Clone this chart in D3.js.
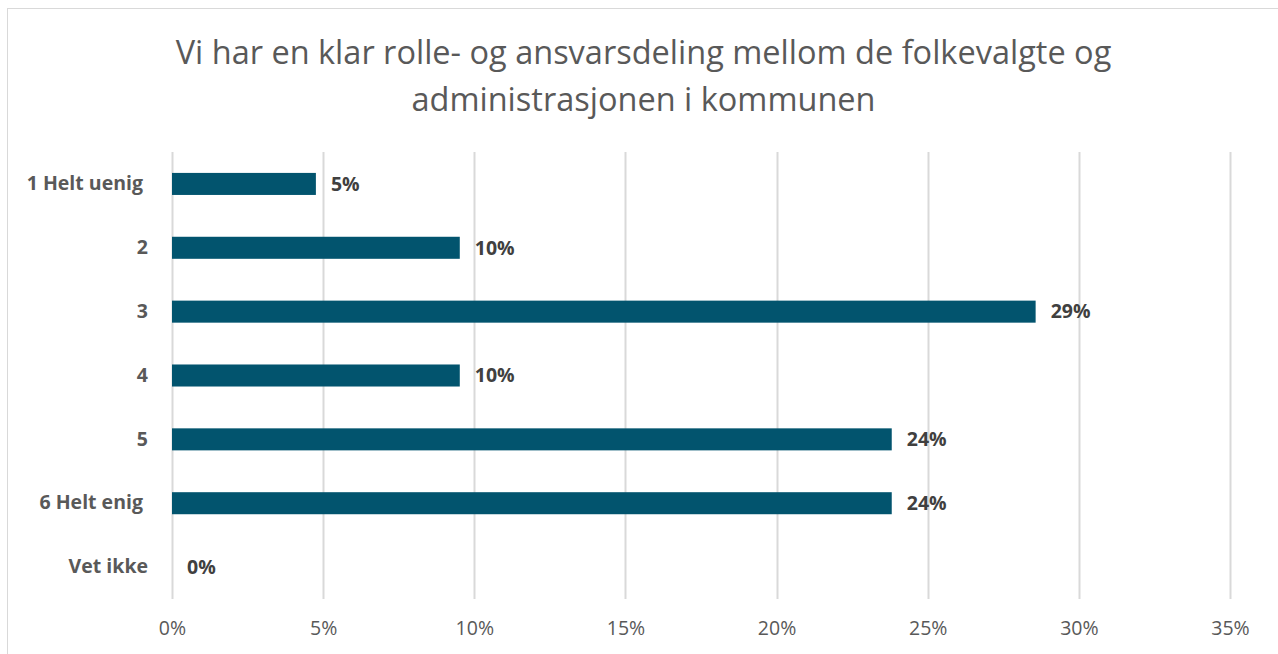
<!DOCTYPE html>
<html>
<head>
<meta charset="utf-8">
<script src="https://cdn.jsdelivr.net/npm/d3@7"></script>
<style>
  body { margin: 0; background: #fff; }
  text { font-family: "Open Sans", sans-serif; white-space: pre; }
</style>
</head>
<body>
<div class="chart"></div>
<script>
var categories = ["1 Helt uenig ", "2", "3", "4", "5", "6 Helt enig ", "Vet ikke"];
var values = [4.76, 9.52, 28.57, 9.52, 23.81, 23.81, 0];
var ticks = [0, 5, 10, 15, 20, 25, 30, 35];
var titleLines = ["Vi har en klar rolle- og ansvarsdeling mellom de folkevalgte og", "administrasjonen i kommunen"];

var svgWidth = 1278;
var svgHeight = 654;

var margin = { top: 152, right: 48, bottom: 55, left: 172 };
var width = svgWidth - margin.left - margin.right;
var height = svgHeight - margin.top - margin.bottom;

var svg = d3.select(".chart")
  .append("svg")
  .attr("width", svgWidth)
  .attr("height", svgHeight);

// outer frame
svg.append("rect")
  .attr("x", 7.5)
  .attr("y", 8.5)
  .attr("width", svgWidth)
  .attr("height", svgHeight)
  .attr("fill", "none")
  .attr("stroke", "#d9d9d9");

svg.append("g")
  .selectAll("text")
  .data(titleLines)
  .enter()
  .append("text")
  .attr("x", 643.5)
  .attr("y", (d, i) => 64 + i * 47)
  .attr("text-anchor", "middle")
  .attr("font-size", "32.5px")
  .attr("fill", "#595959")
  .text(d => d);

var chartGroup = svg.append("g")
  .attr("transform", `translate(${margin.left}, ${margin.top})`);

var xLinearScale = d3.scaleLinear()
  .domain([0, 35])
  .range([0, width]);

var yBand = d3.scaleBand()
  .domain(categories)
  .range([0, height]);

var barH = yBand.bandwidth() * 0.345;

// gridlines
chartGroup.append("g")
  .selectAll("line")
  .data(ticks)
  .enter()
  .append("line")
  .attr("x1", d => Math.round(xLinearScale(d)) + 0.5)
  .attr("x2", d => Math.round(xLinearScale(d)) + 0.5)
  .attr("y1", 0)
  .attr("y2", height)
  .attr("stroke", "#d9d9d9")
  .attr("stroke-width", 2);

var bottomAxis = d3.axisBottom(xLinearScale)
  .tickValues(ticks)
  .tickFormat(d => d + "%")
  .tickSize(0)
  .tickPadding(22);

var xAxis = chartGroup.append("g")
  .attr("transform", `translate(0, ${height})`)
  .call(bottomAxis);
xAxis.select(".domain").remove();
xAxis.selectAll("text")
  .attr("font-family", "'Open Sans', sans-serif")
  .attr("font-size", "19.5px")
  .attr("fill", "#595959");

var leftAxis = d3.axisLeft(yBand)
  .tickSize(0)
  .tickPadding(24);

var yAxis = chartGroup.append("g").call(leftAxis);
yAxis.select(".domain").remove();
yAxis.selectAll("text")
  .attr("font-family", "'Open Sans', sans-serif")
  .attr("font-size", "19.5px")
  .attr("font-weight", "bold")
  .attr("fill", "#595959");

chartGroup.append("g")
  .selectAll("rect")
  .data(values)
  .enter()
  .append("rect")
  .attr("x", 0)
  .attr("y", (d, i) => yBand(categories[i]) + (yBand.bandwidth() - barH) / 2)
  .attr("width", d => xLinearScale(d))
  .attr("height", barH)
  .attr("fill", "#02546e");

chartGroup.append("g")
  .selectAll("text")
  .data(values)
  .enter()
  .append("text")
  .attr("x", d => xLinearScale(d) + 15)
  .attr("y", (d, i) => yBand(categories[i]) + yBand.bandwidth() / 2)
  .attr("dy", "0.35em")
  .attr("font-size", "19.5px")
  .attr("font-weight", "bold")
  .attr("fill", "#404040")
  .text(d => Math.round(d) + "%");
</script>
</body>
</html>
